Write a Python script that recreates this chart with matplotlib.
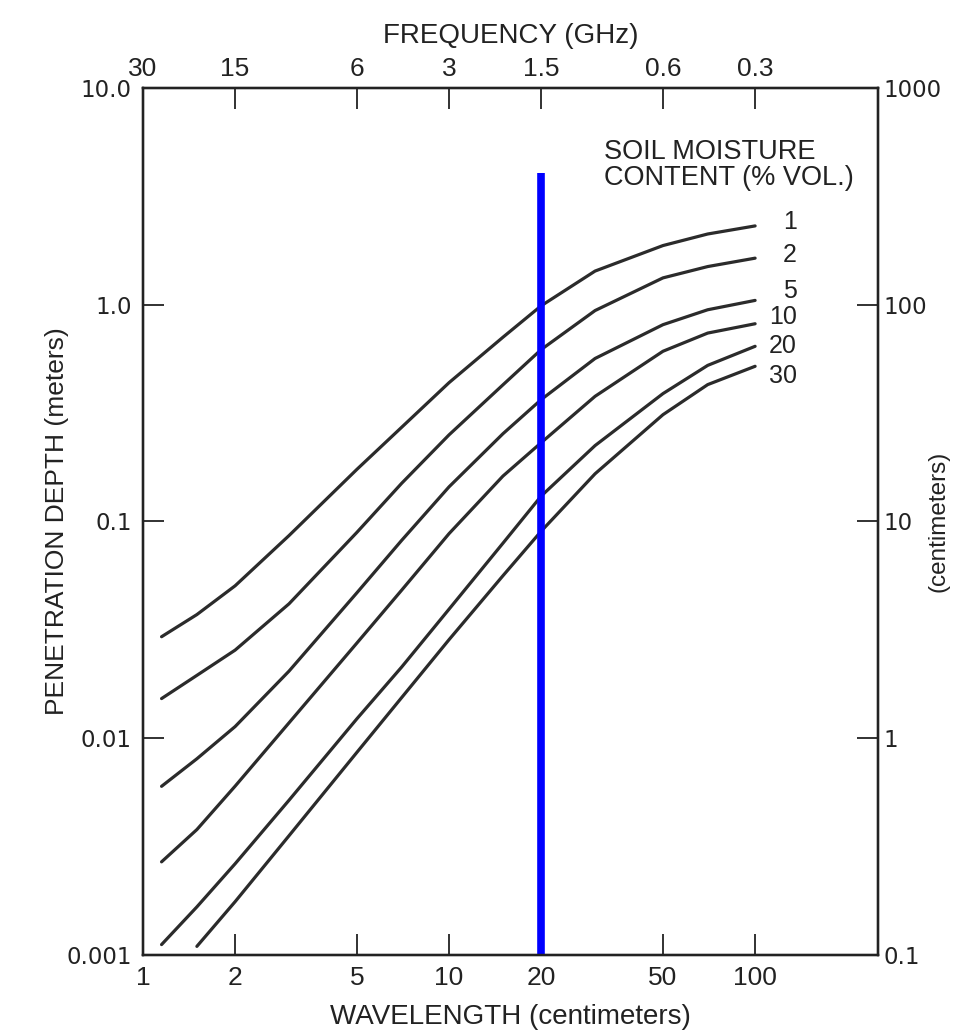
import matplotlib.pyplot as plt

wl = [1.15, 1.5, 2, 3, 5, 7, 10, 15, 20, 30, 50, 70, 100]
wl_30 = [1.5, 2, 3, 5, 7, 10, 15, 20, 30, 50, 70, 100]

# penetration depth (m) per soil moisture content (% vol.)
depth_1 = [0.0294, 0.0372, 0.0505, 0.0861, 0.174, 0.272, 0.437, 0.708, 0.989, 1.43, 1.875, 2.12, 2.31]
depth_2 = [0.01524, 0.0195, 0.0255, 0.0417, 0.0891, 0.150, 0.251, 0.427, 0.621, 0.94, 1.33, 1.50, 1.64]
depth_5 = [0.0060, 0.00804, 0.01132, 0.0204, 0.0469, 0.0818, 0.1445, 0.254, 0.365, 0.565, 0.809, 0.948, 1.047]
depth_10 = [0.00269, 0.00379, 0.00601, 0.01178, 0.0275, 0.0482, 0.0879, 0.162, 0.231, 0.378, 0.610, 0.740, 0.817]
depth_20 = [0.001117, 0.001667, 0.002636, 0.005176, 0.0123, 0.0213, 0.0394, 0.0794, 0.131, 0.224, 0.389, 0.525, 0.643]
depth_30 = [0.001096, 0.001762, 0.00355, 0.00861, 0.0154, 0.0285, 0.0562, 0.0902, 0.166, 0.311, 0.428, 0.520]

moisture = ["1", "2", "5", "10", "20", "30"]
label_offsets = [(30, 2.5), (30, 2), (30, 6.5), (30, 5), (30, 0), (30, -7)]

bottom_ticks = [1, 2, 5, 10, 20, 50, 100]
bottom_labels = ["1", "2", "5", "10", "20", "50", "100"]
freq_labels = ["30", "15", "6", "3", "1.5", "0.6", "0.3"]
y_ticks = [0.001, 0.01, 0.1, 1.0, 10.0]
y_labels_m = ["0.001", "0.01", "0.1", "1.0", "10.0"]
y_labels_cm = ["0.1", "1", "10", "100", "1000"]

marker_wl = 20
marker_top = 4.06

sans = ["Liberation Sans", "DejaVu Sans"]
wide = ["DejaVu Sans"]
ink = "#222222"

fig = plt.figure(figsize=(9.74, 10.35), dpi=100)
ax = fig.add_axes([0.1468, 0.0773, 0.7546, 0.8377])
ax.set_xscale("log")
ax.set_yscale("log")
ax.set_xlim(1, 252)
ax.set_ylim(0.001, 10)

xs = [wl, wl, wl, wl, wl, wl_30]
ys = [depth_1, depth_2, depth_5, depth_10, depth_20, depth_30]
for x, y, lab, off in zip(xs, ys, moisture, label_offsets):
    ax.plot(x, y, color="#2b2b2b", lw=2.3, solid_capstyle="round", solid_joinstyle="round")
    ax.annotate(lab, xy=(x[-1], y[-1]), xytext=off, textcoords="offset points",
                ha="right", va="center", fontsize=18, family=sans, color=ink)

ax.plot([marker_wl, marker_wl], [0.001, marker_top], color="#0000ff", lw=5.5,
        solid_capstyle="butt", zorder=5)

ax.text(0.627, 0.941, "SOIL MOISTURE\nCONTENT (% VOL.)", transform=ax.transAxes,
        ha="left", va="top", fontsize=19.5, family=sans, color=ink,
        linespacing=1.0)

ax.minorticks_off()
ax.set_xticks(bottom_ticks)
ax.set_xticklabels(bottom_labels, family=sans, fontsize=19)
ax.set_yticks(y_ticks)
ax.set_yticklabels(y_labels_m, family=wide, fontsize=16.5)
ax.tick_params(axis="both", which="major", direction="in", length=15, width=1.3,
               colors=ink, pad=8)
ax.set_xlabel("WAVELENGTH (centimeters)", family=sans, fontsize=20, labelpad=10, color=ink)
ax.set_ylabel("PENETRATION DEPTH (meters)", family=sans, fontsize=19, color=ink)
ax.yaxis.set_label_coords(-0.100, 0.5)

top = ax.twiny()
top.set_xscale("log")
top.set_xlim(ax.get_xlim())
top.minorticks_off()
top.set_xticks(bottom_ticks)
top.set_xticklabels(freq_labels, family=sans, fontsize=19)
top.tick_params(axis="x", direction="in", length=15, width=1.3, colors=ink, pad=5)
top.set_xlabel("FREQUENCY (GHz)", family=sans, fontsize=20, labelpad=10, color=ink)

right = ax.twinx()
right.set_yscale("log")
right.set_ylim(ax.get_ylim())
right.minorticks_off()
right.set_yticks(y_ticks)
right.set_yticklabels(y_labels_cm, family=wide, fontsize=16.5)
right.tick_params(axis="y", direction="in", length=15, width=1.3, colors=ink, pad=4)
right.set_ylabel("(centimeters)", family=sans, fontsize=17.5, color=ink)
right.yaxis.set_label_coords(1.068, 0.5)

for a in (ax, top, right):
    for s in a.spines.values():
        s.set_linewidth(1.6)
        s.set_color(ink)

fig.savefig("out.png", dpi=100, facecolor="white")
